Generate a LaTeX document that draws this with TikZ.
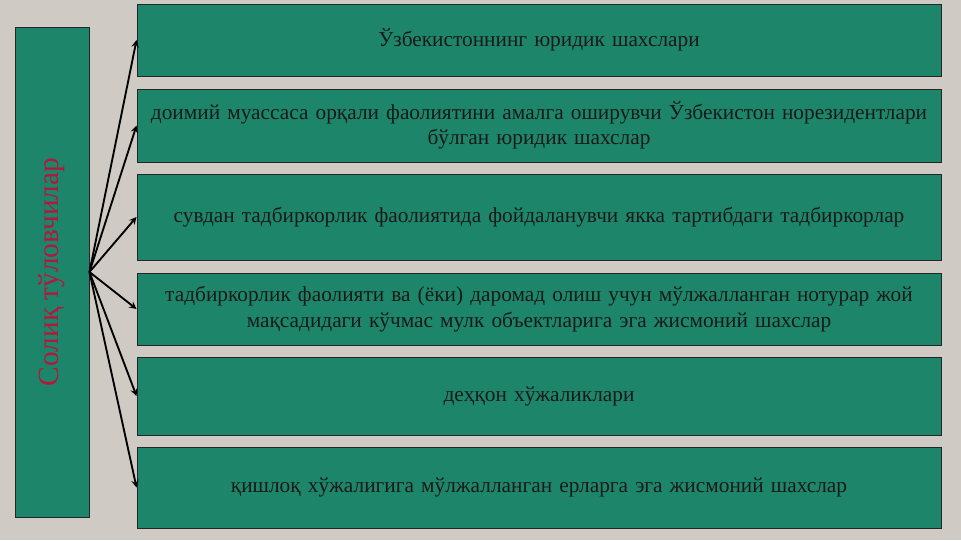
\documentclass[tikz,border=0pt]{standalone}
\usepackage{fontspec}
\setmainfont{Liberation Serif}
\usetikzlibrary{arrows}

\definecolor{slidebg}{HTML}{CFCBC4}
\definecolor{boxgreen}{HTML}{1D866A}
\definecolor{titlered}{HTML}{B3173C}

\begin{document}
\begin{tikzpicture}[x=0.75pt, y=-0.75pt, >=stealth,
    item/.style={rectangle, draw=black!85, line width=0.7pt, fill=boxgreen,
      minimum width=603pt, text width=600pt, align=center, inner sep=0pt,
      font=\fontsize{16}{19}\selectfont, text=black!90},
    payer/.style={rectangle, draw=black!85, line width=0.7pt, fill=boxgreen,
      minimum width=55.5pt, minimum height=367.5pt, inner sep=0pt,
      font=\fontsize{22}{25}\selectfont, text=titlered},
    link/.style={->, line width=1.4pt, black}]

  \fill[slidebg] (0,0) rectangle (961,540);
  \useasboundingbox (0,0) rectangle (961,540);

  \node[payer] (src) at (52,272) {\rotatebox{90}{Солиқ тўловчилар}};

  \node[item, minimum height=54pt] (b1) at (539,40)
    {Ўзбекистоннинг юридик шахслари};
  \node[item, minimum height=54.75pt] (b2) at (539,125.5)
    {доимий муассаса орқали фаолиятини амалга оширувчи Ўзбекистон норезидентлари\\
     бўлган юридик шахслар};
  \node[item, minimum height=64.5pt] (b3) at (539,217)
    {сувдан тадбиркорлик фаолиятида фойдаланувчи якка тартибдаги тадбиркорлар};
  \node[item, minimum height=54pt] (b4) at (539,309)
    {тадбиркорлик фаолияти ва (ёки) даромад олиш учун мўлжалланган нотурар жой\\
     мақсадидаги кўчмас мулк объектларига эга жисмоний шахслар};
  \node[item, minimum height=58.5pt] (b5) at (539,396)
    {деҳқон хўжаликлари};
  \node[item, minimum height=60.75pt] (b6) at (539,487.5)
    {қишлоқ хўжалигига мўлжалланган ерларга эга жисмоний шахслар};

  \foreach \b in {b1,b2,b3,b4,b5,b6}
    \draw[link] (src.east) -- (\b.west);
\end{tikzpicture}
\end{document}
